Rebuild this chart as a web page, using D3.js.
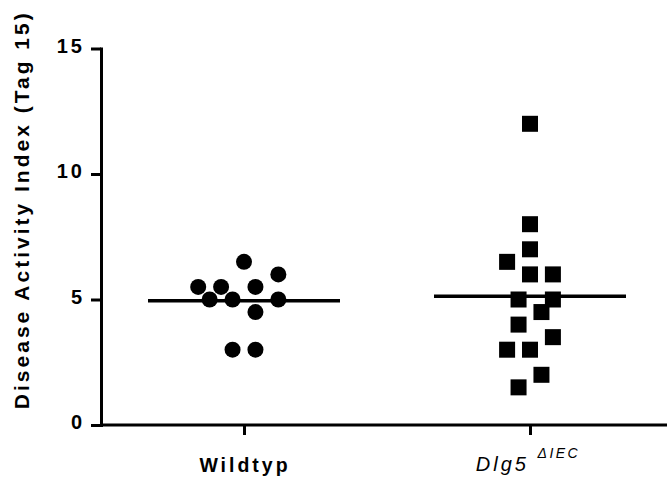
<!DOCTYPE html>
<html>
<head>
<meta charset="utf-8">
<script src="https://cdn.jsdelivr.net/npm/d3@7"></script>
<style>
  html, body { margin: 0; padding: 0; background: #fff; }
  svg { display: block; }
</style>
</head>
<body>
<svg id="chart" width="669" height="479"></svg>
<script>
// ---- data ----
const groups = ["Wildtyp", "Dlg5"];
const wildtypValues = [6.5, 5.5, 5.5, 5.5, 6, 5, 5, 5, 4.5, 3, 3];
const wildtypSlots  = [0, -4, -2, 1, 3, -3, -1, 3, 1, -1, 1];
const dlg5Values = [12, 8, 7, 6.5, 6, 6, 5, 5, 4.5, 4, 3.5, 3, 3, 2, 1.5];
const dlg5Slots  = [0, 0, 0, -2, 0, 2, -1, 2, 1, -1, 2, -2, 0, 1, -1];
const yTicks = [0, 5, 10, 15];
const yTitle = "Disease Activity Index (Tag 15)";

// ---- layout ----
const svg = d3.select("#chart");
const axisX = 101, axisRight = 667, axisY = 425, axisTop = 48.5;
const slotW = 11.45;
const fontFam = "'Liberation Sans', Arial, Helvetica, sans-serif";

const y = d3.scaleLinear().domain([0, 15]).range([axisY, axisTop]);
const x = d3.scalePoint().domain(groups).range([244, 530]);

// y axis
const yAxis = svg.append("g")
  .attr("transform", `translate(${axisX},0)`)
  .call(d3.axisLeft(y).tickValues(yTicks).tickSize(10).tickSizeOuter(0).tickPadding(6));
yAxis.select(".domain").attr("stroke", "#000").attr("stroke-width", 3).attr("stroke-linecap", "square");
yAxis.selectAll(".tick line").attr("stroke", "#000").attr("stroke-width", 3);
yAxis.selectAll(".tick text")
  .attr("font-family", fontFam).attr("font-size", 20).attr("font-weight", "bold")
  .attr("letter-spacing", "3px").attr("fill", "#000").attr("dy", "0.18em");

// x axis
const xAxis = svg.append("g")
  .attr("transform", `translate(0,${axisY})`)
  .call(d3.axisBottom(x).tickSize(10).tickSizeOuter(0).tickFormat(""));
xAxis.select(".domain").attr("d", `M${axisX},0H${axisRight}`)
  .attr("stroke", "#000").attr("stroke-width", 3);
xAxis.selectAll(".tick line").attr("stroke", "#000").attr("stroke-width", 3);

// x labels
svg.append("text")
  .attr("x", x("Wildtyp") + 1).attr("y", 472)
  .attr("text-anchor", "middle")
  .attr("font-family", fontFam).attr("font-size", 19.5).attr("font-weight", "bold")
  .attr("letter-spacing", "3px").attr("fill", "#000")
  .text("Wildtyp");

const dl = svg.append("text")
  .attr("x", x("Dlg5") - 2).attr("y", 471)
  .attr("text-anchor", "middle")
  .attr("font-family", fontFam).attr("font-size", 20).attr("font-style", "italic")
  .attr("fill", "#000");
dl.append("tspan").attr("letter-spacing", "3px").text("Dlg5 ");
dl.append("tspan").attr("font-size", 14).attr("dy", -13).attr("letter-spacing", "2.5px").text("\u0394IEC");

// y title
svg.append("text")
  .attr("transform", `translate(29,${(axisTop + axisY) / 2 - 27}) rotate(-90)`)
  .attr("text-anchor", "middle")
  .attr("font-family", fontFam).attr("font-size", 21).attr("font-weight", "bold")
  .attr("letter-spacing", "3px").attr("fill", "#000")
  .text(yTitle);

// mean lines
const means = [
  { g: "Wildtyp", m: d3.mean(wildtypValues) },
  { g: "Dlg5", m: d3.mean(dlg5Values) }
];
svg.append("g").selectAll("line").data(means).join("line")
  .attr("x1", d => x(d.g) - 96).attr("x2", d => x(d.g) + 96)
  .attr("y1", d => y(d.m)).attr("y2", d => y(d.m))
  .attr("stroke", "#000").attr("stroke-width", 3.5);

// points
const wt = wildtypValues.map((v, i) => ({ v, s: wildtypSlots[i] }));
svg.append("g").selectAll("circle").data(wt).join("circle")
  .attr("cx", d => x("Wildtyp") + d.s * slotW)
  .attr("cy", d => y(d.v))
  .attr("r", 8).attr("fill", "#000");

const dg = dlg5Values.map((v, i) => ({ v, s: dlg5Slots[i] }));
const sq = 16;
svg.append("g").selectAll("rect").data(dg).join("rect")
  .attr("x", d => x("Dlg5") + d.s * slotW - sq / 2)
  .attr("y", d => y(d.v) - sq / 2)
  .attr("width", sq).attr("height", sq).attr("fill", "#000");
</script>
</body>
</html>
